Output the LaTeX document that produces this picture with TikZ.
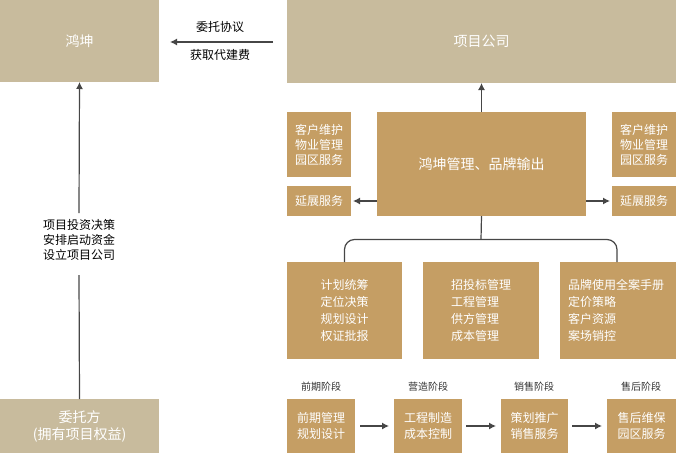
\documentclass[tikz,border=0pt]{standalone}
\usepackage{fontspec}
\setmainfont{Noto Sans CJK SC}
\usepackage{tikz}
\usetikzlibrary{arrows.meta}
\definecolor{tanbox}{RGB}{200,187,157}
\definecolor{goldbox}{RGB}{197,158,100}
\definecolor{linegray}{RGB}{70,70,70}
\tikzstyle{every node}=[inner sep=0pt, outer sep=0pt]
\tikzstyle{tan}=[fill=tanbox, text=white, font=\fontsize{14}{17}\selectfont, align=center]
\tikzstyle{gold}=[fill=goldbox, text=white, font=\fontsize{12}{15}\selectfont]
\tikzstyle{note}=[text=black, font=\fontsize{12}{15}\selectfont, align=center]
\tikzstyle{stage}=[text=black!80, font=\fontsize{10}{12}\selectfont]
\tikzstyle{wire}=[draw=linegray, line width=1.2pt]
\tikzstyle{link}=[wire, -{Latex[length=7pt,width=7pt]}]

\begin{document}
\begin{tikzpicture}[x=1pt, y=-1pt]
  \useasboundingbox (0,0) rectangle (676,453);
  % top row
  \node[tan, minimum width=159pt, minimum height=82pt] (hk) at (79.5,41) {鸿坤};
  \node[tan, minimum width=389pt, minimum height=83pt] (xm) at (481.5,41.5) {项目公司};
  \coordinate (feestart) at (273,42);
  \coordinate (feeend) at (170,42);
  \draw[link] (feestart) -- (feeend);
  \node[note] (xy) at (220,27) {委托协议};
  \node[note] (fy) at (220,55) {获取代建费};

  % left column
  \node[tan, minimum width=159pt, minimum height=54pt] (wt) at (79.5,426) {委托方\\(拥有项目权益)};
  \node[note] (tz) at (79,240) {项目投资决策\\安排启动资金\\设立项目公司};
  \coordinate (tzlow) at (79,275);
  \coordinate (tzhigh) at (79,213);
  \draw[wire] (wt.north) -- (tzlow);
  \draw[link] (tzhigh) -- (hk.south);

  % management block
  \node[gold, minimum width=209pt, minimum height=104pt, font=\fontsize{14}{17}\selectfont]
    (gl) at (481.5,164) {鸿坤管理、品牌输出};
  \draw[link] (gl.north) -- (xm.south);
  \node[gold, minimum width=64pt, minimum height=65pt, align=center] (kl) at (319,144.5) {客户维护\\物业管理\\园区服务};
  \node[gold, minimum width=64pt, minimum height=30pt] (yl) at (319,201) {延展服务};
  \node[gold, minimum width=64pt, minimum height=65pt, align=center] (kr) at (644,144.5) {客户维护\\物业管理\\园区服务};
  \node[gold, minimum width=64pt, minimum height=30pt] (yr) at (644,201) {延展服务};
  \draw[link, shorten >=2pt] (gl.west |- yl) -- (yl.east);
  \draw[link, shorten >=2pt] (gl.east |- yr) -- (yr.west);

  % three work areas
  \node[gold, minimum width=115pt, minimum height=97pt, align=center,
        font=\fontsize{12}{17}\selectfont] (jh) at (344.5,310.5) {计划统筹\\定位决策\\规划设计\\权证批报};
  \node[gold, minimum width=116pt, minimum height=97pt] (zt) at (481,310.5) {};
  \node[gold, align=left, font=\fontsize{12}{17}\selectfont, anchor=west] (ztt) at (451,310.5) {招投标管理\\工程管理\\供方管理\\成本管理};
  \node[gold, minimum width=116pt, minimum height=97pt] (pp) at (618,310.5) {};
  \node[gold, align=left, font=\fontsize{12}{17}\selectfont, anchor=west] (ppt) at (568,310.5) {品牌使用全案手册\\定价策略\\客户资源\\案场销控};
  \coordinate (bar) at (481,239.5);
  \draw[wire, rounded corners=10pt]
    (jh.north) -- (jh.north |- bar) -- (bar -| 617,0) -- ([xshift=-1pt]pp.north);
  \draw[wire] (gl.south) -- (bar);

  % stages
  \node[stage] (s1) at (321,387) {前期阶段};
  \node[stage] (s2) at (428,387) {营造阶段};
  \node[stage] (s3) at (534,387) {销售阶段};
  \node[stage] (s4) at (641,387) {售后阶段};
  \node[gold, minimum width=68pt, minimum height=54pt, align=center,
        font=\fontsize{12}{16}\selectfont] (b1) at (321,426) {前期管理\\规划设计};
  \node[gold, minimum width=68pt, minimum height=54pt, align=center,
        font=\fontsize{12}{16}\selectfont] (b2) at (428,426) {工程制造\\成本控制};
  \node[gold, minimum width=67pt, minimum height=54pt, align=center,
        font=\fontsize{12}{16}\selectfont] (b3) at (534.5,426) {策划推广\\销售服务};
  \node[gold, minimum width=69pt, minimum height=54pt, align=center,
        font=\fontsize{12}{16}\selectfont] (b4) at (641.5,426) {售后维保\\园区服务};
  \draw[link, shorten <=5pt, shorten >=5pt] (b1.east) -- (b2.west);
  \draw[link, shorten <=4pt, shorten >=5pt] (b2.east) -- (b3.west);
  \draw[link, shorten <=4pt, shorten >=5pt] (b3.east) -- (b4.west);
\end{tikzpicture}
\end{document}
